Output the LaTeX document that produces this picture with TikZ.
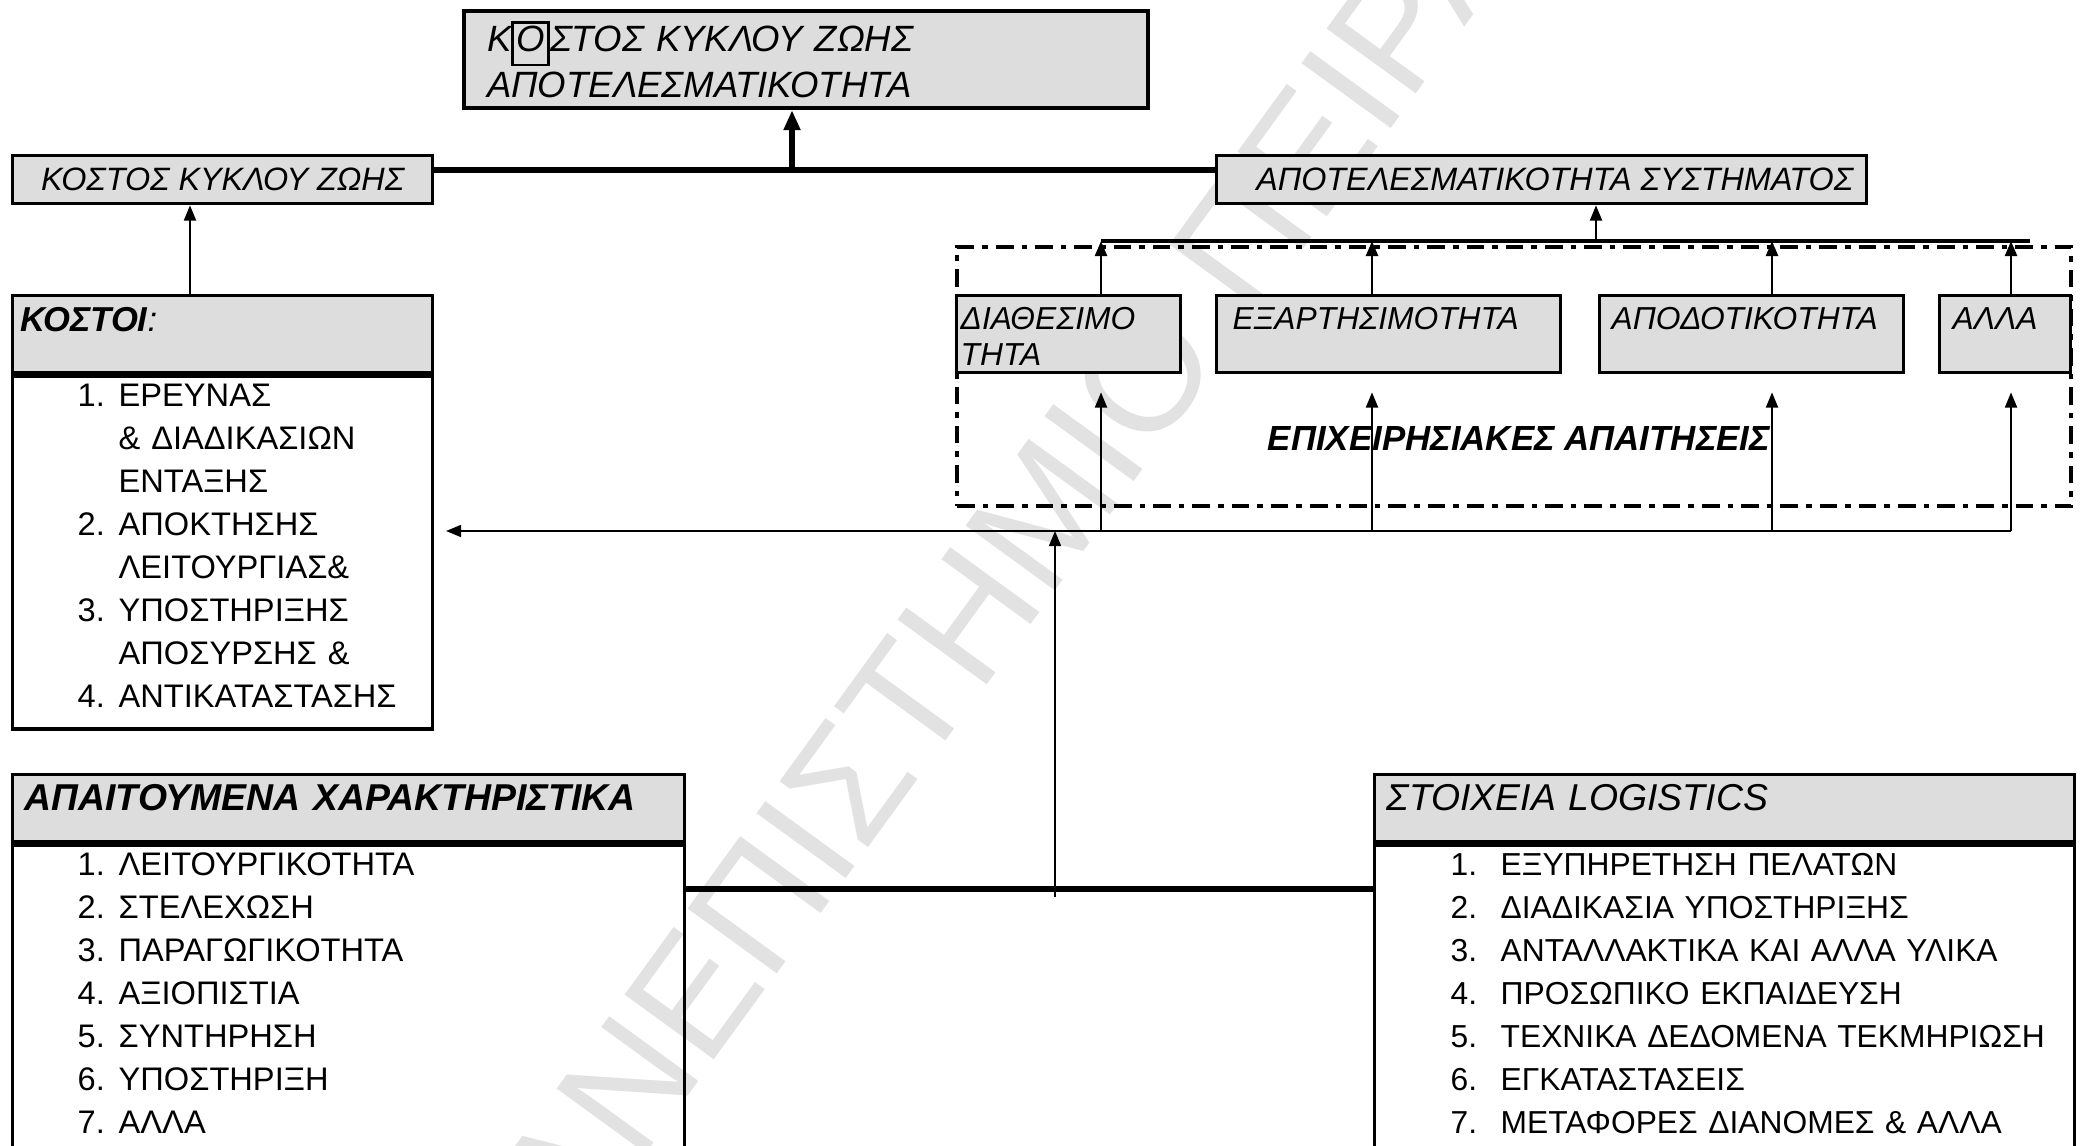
\documentclass[tikz,border=0pt]{standalone}
\usepackage{fontspec}
\setmainfont{Liberation Sans}
\usetikzlibrary{arrows.meta, positioning, calc}
\definecolor{boxgray}{RGB}{221,221,221}
\definecolor{wmgray}{RGB}{226,226,226}
\newlength\pxu
\setlength\pxu{0.125mm}
\newcommand\itm[3][41]{\hspace*{60\pxu}\makebox[#1\pxu][l]{#2}#3}
\tikzset{
  topbox/.style={draw, line width=1.5pt, fill=boxgray, anchor=north west, align=left,
    inner ysep=0pt, font=\fontsize{13}{16.3}\selectfont\itshape},
  labelbox/.style={draw, line width=1.2pt, fill=boxgray, anchor=north west, inner sep=0pt,
    font=\fontsize{11.5}{13}\selectfont\itshape},
  headbox/.style={draw, line width=1.2pt, fill=boxgray, anchor=north west, align=left,
    inner xsep=12\pxu, inner ysep=0pt, text height=36\pxu,
    font=\fontsize{13.3}{15}\selectfont\itshape},
  listbox/.style={draw, line width=1.2pt, anchor=north west, align=left,
    inner xsep=5\pxu, inner ysep=0pt, text height=30\pxu,
    font=\fontsize{11.6}{15.3}\selectfont},
  reqbox/.style={draw, line width=1.2pt, fill=boxgray, anchor=north west, align=left,
    inner ysep=0pt, text height=34\pxu, text depth=43\pxu,
    font=\fontsize{11.3}{12.8}\selectfont\itshape},
  reqframe/.style={draw, line width=1.5pt, dash pattern=on 2.2mm off 1mm on 0.7mm off 1mm,
    anchor=north west, inner sep=0pt},
  trunk/.style={line width=1.8pt},
  bracket/.style={line width=1.1pt},
  feed/.style={line width=0.7pt, -{Triangle[length=1.9mm, width=1.5mm]}},
  rise/.style={line width=1pt, -{Triangle[length=1.9mm, width=1.5mm]}},
  bigarrow/.style={line width=1.8pt, -{Triangle[length=2.5mm, width=2mm]}},
  watermark/.style={text=wmgray, font=\fontsize{57}{60}\selectfont, inner sep=0pt}
}
\begin{document}
\begin{tikzpicture}[x=0.125mm, y=-0.125mm]
  \path[use as bounding box, fill=white] (0,0) rectangle (2080,1146);
  \node[watermark, rotate=54] (wm) at (1050,504) {ΠΑΝΕΠΙΣΤΗΜΙΟ ΠΕΙΡΑΙΩΣ};

  % top level
  \node[topbox, text width=638\pxu, inner xsep=23\pxu, minimum height=97\pxu] (lcc) at (462,9)
    {Κ{\fboxsep=0.8pt\fboxrule=1pt\fbox{\rule[-1.2mm]{0pt}{3.4mm}Ο}}ΣΤΟΣ ΚΥΚΛΟΥ ΖΩΗΣ\\ΑΠΟΤΕΛΕΣΜΑΤΙΚΟΤΗΤΑ};
  \node[labelbox, minimum width=420\pxu, minimum height=48\pxu] (kcz) at (11,154) {ΚΟΣΤΟΣ ΚΥΚΛΟΥ ΖΩΗΣ};
  \node[labelbox, minimum width=650\pxu, minimum height=48\pxu] (apsys) at (1215,154)
    {\hspace*{26\pxu}ΑΠΟΤΕΛΕΣΜΑΤΙΚΟΤΗΤΑ ΣΥΣΤΗΜΑΤΟΣ};

  % costs
  \node[headbox, inner xsep=8\pxu, text width=404\pxu, text depth=41\pxu,
        font=\fontsize{12.3}{15}\selectfont\itshape] (costhead) at (11,294)
    {\textbf{ΚΟΣΤΟΙ}:};
  \node[listbox, text width=410\pxu, text depth=323\pxu,
        below=0pt of costhead.south west, anchor=north west] (costlist)
    {\itm{1.}{ΕΡΕΥΝΑΣ}\\\itm{}{\& ΔΙΑΔΙΚΑΣΙΩΝ}\\\itm{}{ΕΝΤΑΞΗΣ}\\
     \itm{2.}{ΑΠΟΚΤΗΣΗΣ}\\\itm{}{ΛΕΙΤΟΥΡΓΙΑΣ\&}\\
     \itm{3.}{ΥΠΟΣΤΗΡΙΞΗΣ}\\\itm{}{ΑΠΟΣΥΡΣΗΣ \&}\\
     \itm{4.}{ΑΝΤΙΚΑΤΑΣΤΑΣΗΣ}};

  % operational requirements
  \node[reqframe, minimum width=1114\pxu, minimum height=259\pxu] (opreq) at (955,245) {};
  \node[reqbox, inner xsep=4\pxu, text width=216\pxu] (avail) at (955,294) {ΔΙΑΘΕΣΙΜΟ\\ΤΗΤΑ};
  \node[reqbox, inner xsep=16\pxu, text width=312\pxu] (dep) at (1215,294) {ΕΞΑΡΤΗΣΙΜΟΤΗΤΑ};
  \node[reqbox, inner xsep=12\pxu, text width=280\pxu] (eff) at (1598,294) {ΑΠΟΔΟΤΙΚΟΤΗΤΑ};
  \node[reqbox, inner xsep=13\pxu, text width=105\pxu] (oth) at (1938,294) {ΑΛΛΑ};
  \node[font=\fontsize{12.4}{14}\selectfont\bfseries\itshape] (optitle) at (1519,439)
    {ΕΠΙΧΕΙΡΗΣΙΑΚΕΣ ΑΠΑΙΤΗΣΕΙΣ};

  % required characteristics
  \node[headbox, text width=648\pxu, text depth=31\pxu] (reqhead) at (11,773)
    {\textbf{ΑΠΑΙΤΟΥΜΕΝΑ ΧΑΡΑΚΤΗΡΙΣΤΙΚΑ}};
  \node[listbox, text width=662\pxu, text depth=273\pxu,
        below=0pt of reqhead.south west, anchor=north west] (reqlist)
    {\itm{1.}{ΛΕΙΤΟΥΡΓΙΚΟΤΗΤΑ}\\\itm{2.}{ΣΤΕΛΕΧΩΣΗ}\\\itm{3.}{ΠΑΡΑΓΩΓΙΚΟΤΗΤΑ}\\
     \itm{4.}{ΑΞΙΟΠΙΣΤΙΑ}\\\itm{5.}{ΣΥΝΤΗΡΗΣΗ}\\\itm{6.}{ΥΠΟΣΤΗΡΙΞΗ}\\\itm{7.}{ΑΛΛΑ}};

  % logistics
  \node[headbox, text width=676\pxu, text depth=31\pxu] (logihead) at (1373,773) {ΣΤΟΙΧΕΙΑ LOGISTICS};
  \node[listbox, inner xsep=16\pxu, text width=668\pxu, text depth=273\pxu,
        font=\fontsize{11.3}{15.3}\selectfont,
        below=0pt of logihead.south west, anchor=north west] (logilist)
    {\itm[50]{1.}{ΕΞΥΠΗΡΕΤΗΣΗ ΠΕΛΑΤΩΝ}\\\itm[50]{2.}{ΔΙΑΔΙΚΑΣΙΑ ΥΠΟΣΤΗΡΙΞΗΣ}\\
     \itm[50]{3.}{ΑΝΤΑΛΛΑΚΤΙΚΑ ΚΑΙ ΑΛΛΑ ΥΛΙΚΑ}\\\itm[50]{4.}{ΠΡΟΣΩΠΙΚΟ ΕΚΠΑΙΔΕΥΣΗ}\\
     \itm[50]{5.}{ΤΕΧΝΙΚΑ ΔΕΔΟΜΕΝΑ ΤΕΚΜΗΡΙΩΣΗ}\\\itm[50]{6.}{ΕΓΚΑΤΑΣΤΑΣΕΙΣ}\\
     \itm[50]{7.}{ΜΕΤΑΦΟΡΕΣ ΔΙΑΝΟΜΕΣ \& ΑΛΛΑ}};

  % connectors
  \coordinate (tj) at (792,170);
  \coordinate (ck) at (190,250);
  \coordinate (ke) at (1596,241);
  \coordinate (kr) at (2030,241);
  \coordinate (lk) at (446,531);
  \coordinate (jn) at (1055,889);
  \coordinate (jb) at (1055,897);
  \foreach \n/\x in {a/1101, b/1372, c/1772, d/2011} {
    \coordinate (k\n) at (\x,241);
    \coordinate (l\n) at (\x,531);
  }
  \draw[trunk] (kcz.east |- tj) -- (apsys.west |- tj);
  \draw[bigarrow] (tj) -- (lcc.south -| tj);
  \draw[feed] (costhead.north -| ck) -- (kcz.south -| ck);
  \draw[bracket] (ka) -- (kr);
  \draw[feed] (ke) -- (apsys.south -| ke);
  \foreach \s/\n in {avail/a, dep/b, eff/c, oth/d} {
    \draw[rise] (\s.north -| k\n) -- (k\n);
    \draw[feed] (l\n) -- ($(\s.south -| l\n)+(0,18)$);
  }
  \draw[feed] (ld) -- (lk);
  \draw[trunk] (reqlist.east |- jn) -- (logilist.west |- jn);
  \draw[feed] (jb) -- (jn |- ld);
\end{tikzpicture}
\end{document}
